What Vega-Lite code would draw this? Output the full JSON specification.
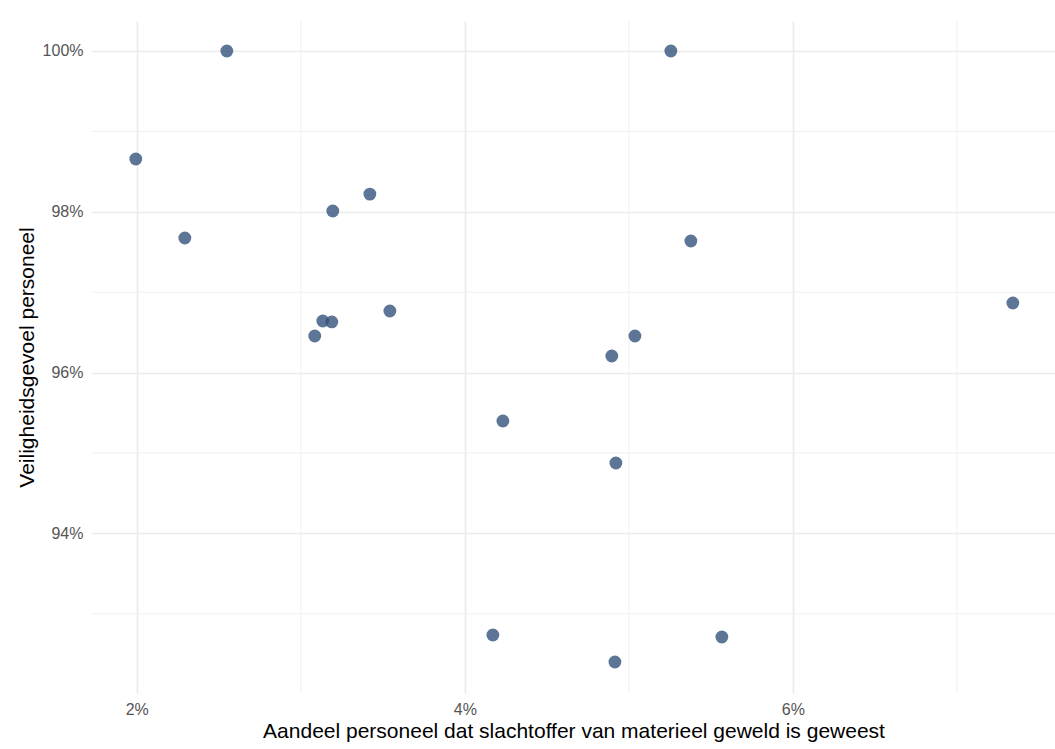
{
  "$schema": "https://vega.github.io/schema/vega-lite/v6.json",
  "width": 963,
  "height": 672,
  "autosize": {"type": "none"},
  "padding": {"left": 92, "top": 21, "right": 0, "bottom": 56},
  "background": "white",
  "config": {
    "view": {"stroke": null},
    "font": "Liberation Sans",
    "axis": {
      "domain": false,
      "ticks": false,
      "gridColor": "#ebebeb",
      "gridWidth": 1.6,
      "labelColor": "#555555",
      "labelFont": "Liberation Sans",
      "labelFontSize": 16,
      "titleFont": "Liberation Sans",
      "titleFontSize": 21,
      "titleFontWeight": "normal",
      "titleColor": "#000000"
    }
  },
  "datasets": {
    "points": [
      {"geweld": 0.02549, "veiligheid": 1.0},
      {"geweld": 0.05256, "veiligheid": 1.0},
      {"geweld": 0.01994, "veiligheid": 0.98657},
      {"geweld": 0.02293, "veiligheid": 0.97674},
      {"geweld": 0.03195, "veiligheid": 0.9801},
      {"geweld": 0.03421, "veiligheid": 0.9822},
      {"geweld": 0.05378, "veiligheid": 0.97637},
      {"geweld": 0.03134, "veiligheid": 0.96642},
      {"geweld": 0.03189, "veiligheid": 0.9663},
      {"geweld": 0.03085, "veiligheid": 0.96455},
      {"geweld": 0.03543, "veiligheid": 0.96766},
      {"geweld": 0.07341, "veiligheid": 0.96866},
      {"geweld": 0.05037, "veiligheid": 0.96455},
      {"geweld": 0.04896, "veiligheid": 0.96206},
      {"geweld": 0.04232, "veiligheid": 0.95398},
      {"geweld": 0.04921, "veiligheid": 0.94876},
      {"geweld": 0.04171, "veiligheid": 0.92736},
      {"geweld": 0.05567, "veiligheid": 0.92711},
      {"geweld": 0.04915, "veiligheid": 0.924}
    ],
    "minorx": [{"v": 0.03}, {"v": 0.05}, {"v": 0.07}],
    "minory": [{"v": 0.93}, {"v": 0.95}, {"v": 0.97}, {"v": 0.99}]
  },
  "layer": [
    {
      "data": {"name": "minorx"},
      "mark": {"type": "rule", "color": "#f0f0f0", "strokeWidth": 1},
      "encoding": {
        "x": {"field": "v", "type": "quantitative", "scale": {"domain": [0.01727, 0.07598], "nice": false, "zero": false}}
      }
    },
    {
      "data": {"name": "minory"},
      "mark": {"type": "rule", "color": "#f0f0f0", "strokeWidth": 1},
      "encoding": {
        "y": {"field": "v", "type": "quantitative", "scale": {"domain": [0.92015, 1.00373], "nice": false, "zero": false}}
      }
    },
    {
      "data": {"name": "points"},
      "mark": {"type": "circle", "size": 165, "fill": "#35527c", "opacity": 0.8, "stroke": null},
      "encoding": {
        "x": {
          "field": "geweld",
          "type": "quantitative",
          "scale": {"domain": [0.01727, 0.07598], "nice": false, "zero": false},
          "axis": {
            "values": [0.02, 0.04, 0.06],
            "format": ".0%",
            "labelPadding": 8,
            "title": "Aandeel personeel dat slachtoffer van materieel geweld is geweest",
            "titlePadding": 3
          }
        },
        "y": {
          "field": "veiligheid",
          "type": "quantitative",
          "scale": {"domain": [0.92015, 1.00373], "nice": false, "zero": false},
          "axis": {
            "values": [0.94, 0.96, 0.98, 1.0],
            "format": ".0%",
            "labelPadding": 9,
            "title": "Veiligheidsgevoel personeel",
            "titlePadding": 5
          }
        }
      }
    }
  ]
}
